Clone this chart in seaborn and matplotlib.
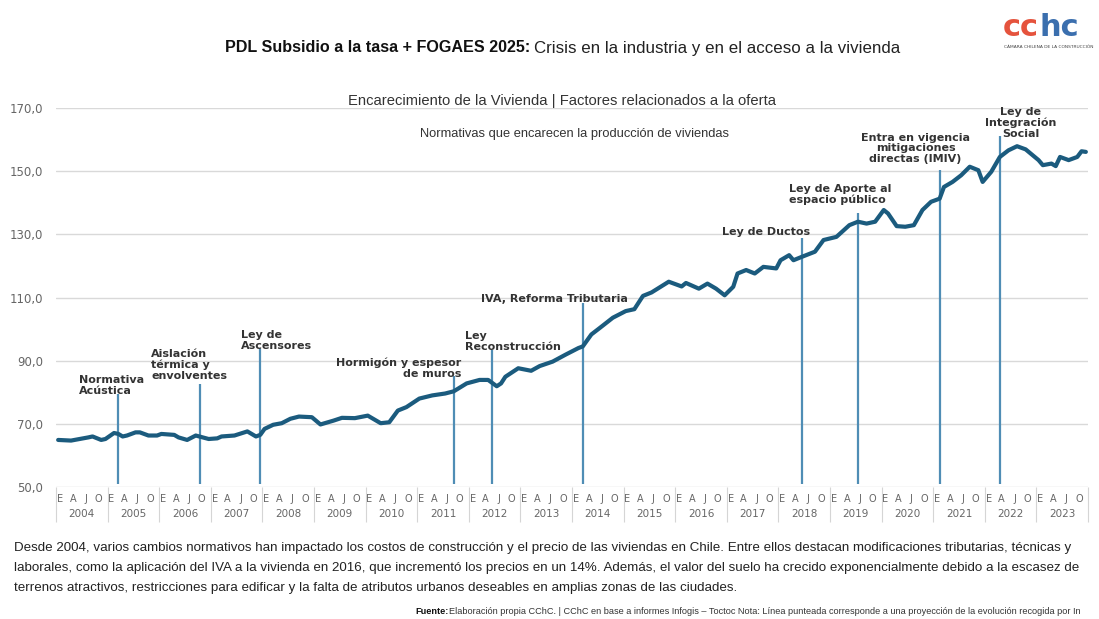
import matplotlib
matplotlib.use("Agg")
import matplotlib.pyplot as plt
import matplotlib.transforms as mtransforms
from matplotlib.ticker import FuncFormatter
import pandas as pd
import seaborn as sns

# Datos (indice de precios de vivienda, mensual)
meses = [
    "2004-01", "2004-04", "2004-08", "2004-09", "2004-11", "2004-12",
    "2005-02", "2005-03", "2005-04", "2005-05", "2005-07", "2005-08", "2005-10", "2005-12",
    "2006-01", "2006-04", "2006-05", "2006-07", "2006-09", "2006-12",
    "2007-02", "2007-03", "2007-06", "2007-09", "2007-11", "2007-12",
    "2008-01", "2008-03", "2008-05", "2008-07", "2008-09", "2008-12",
    "2009-02", "2009-05", "2009-07", "2009-10",
    "2010-01", "2010-04", "2010-06", "2010-08", "2010-10",
    "2011-01", "2011-04", "2011-07", "2011-09", "2011-12",
    "2012-03", "2012-05", "2012-07", "2012-08", "2012-09", "2012-12",
    "2013-03", "2013-05", "2013-08", "2013-11",
    "2014-02", "2014-03", "2014-05", "2014-07", "2014-10",
    "2015-01", "2015-03", "2015-05", "2015-07", "2015-11",
    "2016-02", "2016-03", "2016-06", "2016-08", "2016-10", "2016-12",
    "2017-02", "2017-03", "2017-05", "2017-07", "2017-09", "2017-12",
    "2018-01", "2018-03", "2018-04", "2018-06", "2018-09", "2018-11",
    "2019-02", "2019-05", "2019-07", "2019-09", "2019-11",
    "2020-01", "2020-02", "2020-04", "2020-06", "2020-08", "2020-10", "2020-12",
    "2021-02", "2021-03", "2021-05", "2021-07", "2021-09", "2021-11", "2021-12",
    "2022-02", "2022-04", "2022-06", "2022-08", "2022-10",
    "2023-01", "2023-02", "2023-04", "2023-05", "2023-06", "2023-08",
    "2023-09", "2023-10", "2023-11", "2023-12",
]
indice = [
    64.9, 64.7, 65.7, 66.0, 64.9, 65.2,
    67.1, 66.8, 66.0, 66.3, 67.3, 67.3, 66.3, 66.3,
    66.8, 66.5, 65.7, 64.9, 66.3, 65.2,
    65.4, 66.0, 66.3, 67.6, 66.0, 66.5,
    68.4, 69.7, 70.2, 71.6, 72.3, 72.1,
    69.8, 71.0, 71.9, 71.8,
    72.6, 70.2, 70.5, 74.2, 75.3,
    78.0, 79.0, 79.6, 80.3, 82.8,
    83.9, 83.9, 81.9, 82.8, 84.9, 87.6,
    86.8, 88.3, 89.7, 91.9,
    94.0, 94.5, 98.3, 100.4, 103.6,
    105.7, 106.3, 110.5, 111.6, 115.0,
    113.5, 114.6, 112.8, 114.4, 112.8, 110.7,
    113.4, 117.6, 118.7, 117.6, 119.7, 119.2,
    121.8, 123.4, 121.8, 122.9, 124.5, 128.2,
    129.2, 132.9, 134.0, 133.4, 134.0,
    137.7, 136.6, 132.6, 132.4, 132.9, 137.7, 140.3,
    141.3, 145.0, 146.6, 148.7, 151.4, 150.3, 146.6,
    149.8, 154.5, 156.6, 157.9, 156.9,
    153.5, 151.9, 152.4, 151.6, 154.5, 153.5,
    154.0, 154.5, 156.3, 156.1,
]

eventos = [
    "Normativa\nAcústica",
    "Aislación\ntérmica y\nenvolventes",
    "Ley de\nAscensores",
    "Hormigón y espesor\nde muros",
    "Ley\nReconstrucción",
    "IVA, Reforma Tributaria",
    "Ley de Ductos",
    "Ley de Aporte al\nespacio público",
    "Entra en vigencia\nmitigaciones\ndirectas (IMIV)",
    "Ley de\nIntegración\nSocial",
]
eventos_mes = ["2005-03", "2006-10", "2007-12", "2011-09", "2012-06",
               "2014-03", "2018-06", "2019-07", "2021-02", "2022-04"]
eventos_tope = [79.5, 82.7, 93.8, 85.2, 93.5, 108.4, 128.7, 136.7, 150.3, 161.1]

anos = ["2004", "2005", "2006", "2007", "2008", "2009", "2010", "2011", "2012", "2013",
        "2014", "2015", "2016", "2017", "2018", "2019", "2020", "2021", "2022", "2023"]
letras_mes = ["E", "A", "J", "O"]

# posicion de las etiquetas respecto de la linea (pixeles) y alineacion
etiqueta_layout = [
    ("left", -39, -2), ("left", -49, 3), ("left", -19, -2), ("right", 8, -3),
    ("left", -27, -2), ("center", -28, -1), ("center", -36, 1), ("left", -69, 8),
    ("center", -24, 6), ("center", 21, -3),
]

inicio = pd.Period("2004-01", freq="M")
df = pd.DataFrame({"mes": meses, "indice": indice})
df["x"] = [(pd.Period(m, freq="M") - inicio).n for m in df["mes"]]
ev_x = [(pd.Period(m, freq="M") - inicio).n for m in eventos_mes]

sns.set_theme(style="white")
plt.rcParams["font.family"] = ["DejaVu Sans"]
narrow = ["Liberation Sans Narrow", "Liberation Sans", "DejaVu Sans"]

W, H = 1099, 619
fig = plt.figure(figsize=(W / 100, H / 100), dpi=100)
ax = fig.add_axes([56 / W, 1 - 487 / H, (1088 - 56) / W, (487 - 108) / H])

ax.vlines(ev_x, 51, eventos_tope, color="#4f8db5", lw=1.6, zorder=2)
sns.lineplot(data=df, x="x", y="indice", ax=ax, color="#1b5b7e", lw=3.0, zorder=3)

for texto, ex, top, (ha, dx, dy) in zip(eventos, ev_x, eventos_tope, etiqueta_layout):
    ax.annotate(texto, xy=(ex, top), xytext=(dx, dy), textcoords="offset pixels",
                ha=ha, va="bottom", multialignment=ha, fontsize=8,
                fontweight="bold", color="#333333", linespacing=1.1)

ax.set_xlim(-0.5, len(anos) * 12 - 0.5)
ax.set_ylim(50, 170)
ax.set_yticks(range(50, 171, 20))
ax.yaxis.set_major_formatter(FuncFormatter(lambda v, p: f"{v:.1f}".replace(".", ",")))
ax.grid(axis="y", color="#d9d9d9", lw=1)
ax.set_axisbelow(True)
sns.despine(ax=ax, left=True, bottom=True, top=True, right=True)
ax.set_xlabel("")
ax.set_ylabel("")
ax.tick_params(axis="y", length=0, labelsize=8.5, labelcolor="#666666", pad=9)

ax.set_xticks([12 * i + 3 * j + 0.4 for i in range(len(anos)) for j in range(4)])
ax.set_xticklabels(letras_mes * len(anos))
ax.set_xticks([12 * i - 0.5 for i in range(len(anos) + 1)], minor=True)
ax.tick_params(axis="x", which="major", length=0, labelsize=7, labelcolor="#666666", pad=5)
ax.tick_params(axis="x", which="minor", length=25, width=0.8, color="#d5d5d5", direction="out")
ax.tick_params(axis="x", which="minor", bottom=True)

trans = mtransforms.blended_transform_factory(ax.transData, ax.transAxes)
for i, a in enumerate(anos):
    ax.text(12 * i + 5.5, -0.072, a, transform=trans, ha="center", va="center",
            fontsize=7.5, color="#666666")

# titulos
fig.text(530 / W, 1 - 48 / H, "PDL Subsidio a la tasa + FOGAES 2025:", ha="right", va="center",
         fontsize=11.6, fontweight="bold", family=narrow, color="#111111")
fig.text(534 / W, 1 - 48 / H, "Crisis en la industria y en el acceso a la vivienda", ha="left",
         va="center", fontsize=12.2, family=narrow, color="#222222")
fig.text(562 / W, 1 - 101 / H, "Encarecimiento de la Vivienda | Factores relacionados a la oferta",
         ha="center", va="center", fontsize=10.6, family=narrow, color="#333333")
fig.text(574 / W, 1 - 134 / H, "Normativas que encarecen la producción de viviendas",
         ha="center", va="center", fontsize=9.3, family=narrow, color="#333333")

# logo
fig.text(1003 / W, 1 - 28 / H, "cc", ha="left", va="center", fontsize=22, fontweight="bold",
         color="#e5533d")
fig.text(1040 / W, 1 - 28 / H, "hc", ha="left", va="center", fontsize=22, fontweight="bold",
         color="#3b6fae")
fig.text(1004 / W, 1 - 47 / H, "CÁMARA CHILENA DE LA CONSTRUCCIÓN", ha="left", va="center",
         fontsize=3.2, color="#444444")

# texto inferior
parrafo = [
    "Desde 2004, varios cambios normativos han impactado los costos de construcción y el precio de las viviendas en Chile. Entre ellos destacan modificaciones tributarias, técnicas y",
    "laborales, como la aplicación del IVA a la vivienda en 2016, que incrementó los precios en un 14%. Además, el valor del suelo ha crecido exponencialmente debido a la escasez de",
    "terrenos atractivos, restricciones para edificar y la falta de atributos urbanos deseables en amplias zonas de las ciudades.",
]
for k, linea in enumerate(parrafo):
    fig.text(14 / W, 1 - (548 + 20 * k) / H, linea, ha="left", va="center", fontsize=9.6,
             family=narrow, color="#222222")

fig.text(415 / W, 1 - 611 / H, "Fuente:", ha="left", va="center", fontsize=6.6,
         fontweight="bold", family=narrow, color="#111111")
fig.text(449 / W, 1 - 611 / H,
         "Elaboración propia CChC. | CChC en base a informes Infogis – Toctoc Nota: Línea punteada corresponde a una proyección de la evolución recogida por In",
         ha="left", va="center", fontsize=6.6, family=narrow, color="#333333")

fig.savefig("out.png", dpi=100)
